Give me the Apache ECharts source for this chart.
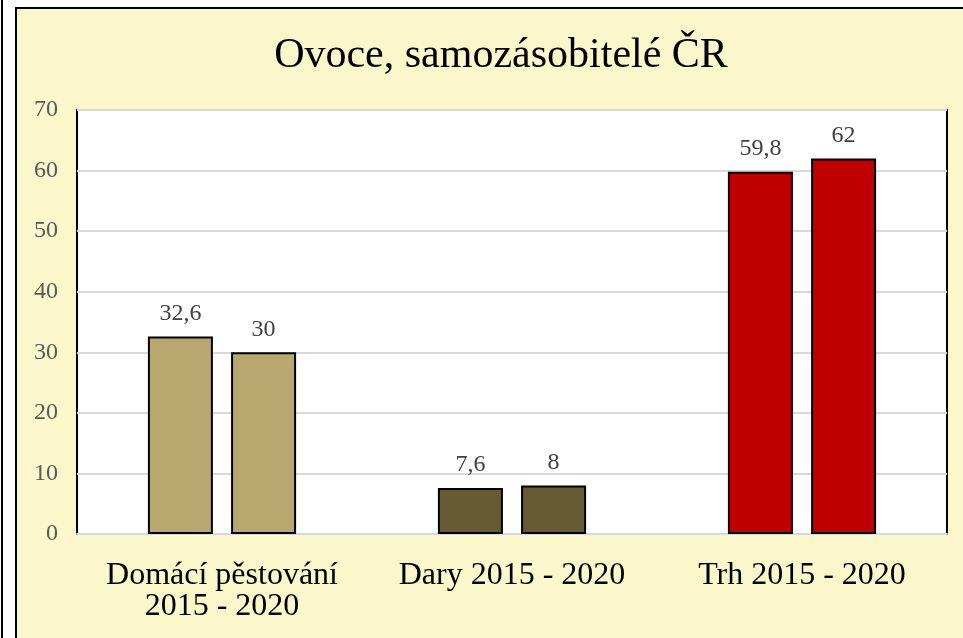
<!DOCTYPE html>
<html>
<head>
<meta charset="utf-8">
<script src="https://cdn.jsdelivr.net/npm/echarts@6/dist/echarts.min.js"></script>
<style>
html, body { margin: 0; padding: 0; background: #ffffff; }
#chart { width: 963px; height: 638px; }
</style>
</head>
<body>
<div id="chart"></div>
<script>
// data
const categories = ['Domácí pěstování\n2015 - 2020', 'Dary 2015 - 2020', 'Trh 2015 - 2020'];
const values2015 = [32.6, 7.6, 59.8];
const values2020 = [30, 8, 62];
const barColors = ['#B8A86F', '#665B33', '#C00000'];
const yTicks = [0, 10, 20, 30, 40, 50, 60, 70];

const serif = '"Liberation Serif", "DejaVu Serif", serif';

const toItems = (vals) => vals.map((v, i) => ({
    value: v,
    itemStyle: { color: barColors[i] }
}));

const fmt = (p) => String(p.value).replace('.', ',');

const barSeries = (name, vals) => ({
    name: name,
    type: 'bar',
    data: toItems(vals),
    barWidth: 65,
    barGap: '28%',
    itemStyle: { borderColor: '#000000', borderWidth: 2 },
    label: {
        show: true,
        position: 'top',
        distance: 11,
        formatter: fmt,
        fontFamily: serif,
        fontSize: 24,
        color: '#404040'
    }
});

const myChart = echarts.init(document.getElementById('chart'));
const option = {
    backgroundColor: '#ffffff',
    animation: false,
    graphic: [
        {
            type: 'rect',
            z: -10,
            shape: { x: 16, y: 8, width: 960, height: 640 },
            style: { fill: '#FAF7CB', stroke: '#000000', lineWidth: 2 }
        },
        {
            type: 'line',
            z: -10,
            shape: { x1: 2, y1: 0, x2: 2, y2: 638 },
            style: { stroke: '#000000', lineWidth: 2 }
        }
    ],
    title: {
        text: 'Ovoce, samozásobitelé ČR',
        left: 496,
        textAlign: 'center',
        top: 30,
        textStyle: {
            fontFamily: serif,
            fontWeight: 'normal',
            fontSize: 42,
            color: '#000000'
        }
    },
    grid: {
        left: 77,
        right: 16,
        top: 110,
        bottom: 104,
        show: true,
        backgroundColor: '#ffffff',
        borderColor: '#000000',
        borderWidth: 2
    },
    xAxis: {
        type: 'category',
        data: categories,
        axisTick: { show: false },
        axisLine: { lineStyle: { color: '#d9d9d9', width: 2 } },
        axisLabel: {
            interval: 0,
            hideOverlap: false,
            fontFamily: serif,
            fontSize: 32,
            color: '#000000',
            margin: 26,
            lineHeight: 31
        }
    },
    yAxis: {
        type: 'value',
        min: 0,
        max: yTicks[yTicks.length - 1],
        interval: 10,
        axisLine: { show: false },
        axisTick: { show: false },
        splitLine: { lineStyle: { color: '#d9d9d9', width: 2 } },
        axisLabel: {
            fontFamily: serif,
            fontSize: 24,
            color: '#595959',
            margin: 19
        }
    },
    series: [
        barSeries('2015', values2015),
        barSeries('2020', values2020)
    ]
};
myChart.setOption(option);
</script>
</body>
</html>
